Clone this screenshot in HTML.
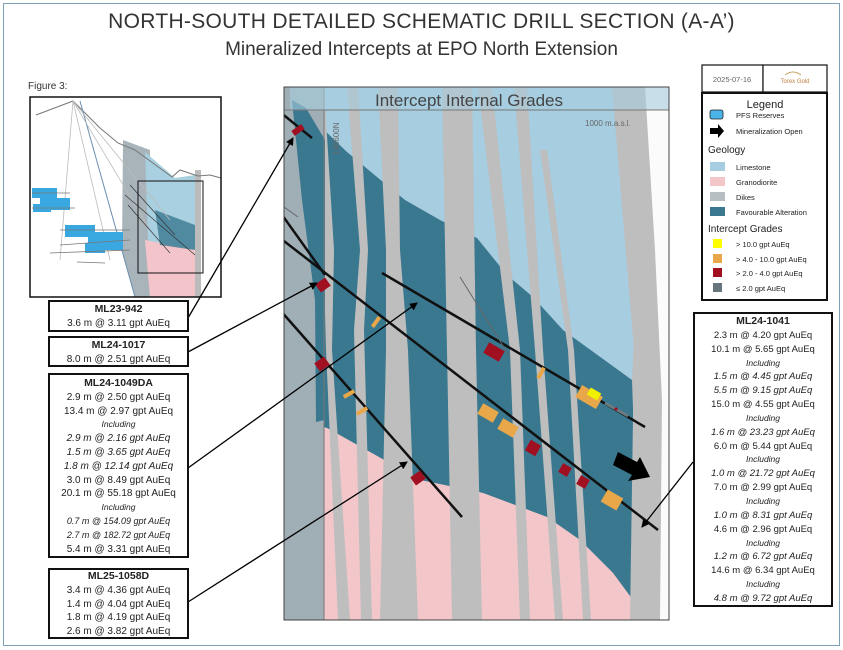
<!DOCTYPE html>
<html><head><meta charset="utf-8"><style>
body{margin:0;width:843px;height:650px;background:#fff;font-family:"Liberation Sans",sans-serif;overflow:hidden;position:relative}
.t{position:absolute;left:0;width:843px;text-align:center;color:#333}
.box{position:absolute;border:2px solid #111;background:#fff;text-align:center;font-size:10px;color:#222;box-sizing:border-box}
.box b{font-size:10.5px;color:#222}
.box div{line-height:13.8px}
.i{font-style:italic}
.r div{line-height:13.85px}
</style></head><body>
<div style="position:absolute;left:3px;top:3px;width:835px;height:641px;border:1px solid #7f9fb5"></div>
<div class="t" style="top:10px;font-size:21px;letter-spacing:0.3px">NORTH-SOUTH DETAILED SCHEMATIC DRILL SECTION (A-A’)</div>
<div class="t" style="top:39px;font-size:19px">Mineralized Intercepts at EPO North Extension</div>
<div style="position:absolute;left:28px;top:81px;font-size:10px;color:#333">Figure 3:</div>

<svg width="843" height="650" style="position:absolute;left:0;top:0">
<g>
<rect x="30" y="97" width="191" height="200" fill="#fff"/>
<polygon points="123,140 150,150 150,297 135,297 122,250" fill="#a8b4ba"/>
<polygon points="145,152 175,178 195,175 196,297 150,297" fill="#a9d0e0"/>
<polygon points="145,240 196,250 200,297 150,297" fill="#f3c5cb"/>
<polygon points="155,210 195,225 195,250 160,245" fill="#3a7890" opacity="0.8"/>
<rect x="195" y="170" width="6" height="127" fill="#bbb"/>
<polyline points="36,115 73,101 100,128 118,143 135,150 172,177 180,170 198,176 210,175 221,178" fill="none" stroke="#777" stroke-width="1"/>
<line x1="80" y1="101" x2="135" y2="297" stroke="#6a8fb0" stroke-width="1"/>
<g stroke="#bbb" stroke-width="0.8"><line x1="73" y1="101" x2="60" y2="260"/><line x1="73" y1="101" x2="110" y2="260"/><line x1="73" y1="101" x2="150" y2="230"/><line x1="73" y1="101" x2="170" y2="220"/></g>
<g fill="#3aa8e0"><rect x="32" y="188" width="25" height="10"/><rect x="40" y="198" width="30" height="12"/><rect x="33" y="204" width="18" height="8"/><rect x="65" y="225" width="30" height="12"/><rect x="88" y="232" width="35" height="18"/><rect x="85" y="243" width="20" height="10"/></g>
<g stroke="#777" stroke-width="0.8"><line x1="32" y1="193" x2="70" y2="193"/><line x1="32" y1="208" x2="75" y2="208"/><line x1="60" y1="230" x2="130" y2="230"/><line x1="60" y1="245" x2="130" y2="240"/><line x1="50" y1="253" x2="130" y2="250"/><line x1="77" y1="262" x2="105" y2="263"/></g>
<g stroke="#333" stroke-width="0.7"><line x1="130" y1="185" x2="175" y2="235"/><line x1="125" y1="195" x2="195" y2="255"/><line x1="128" y1="205" x2="170" y2="253"/></g>
<rect x="138" y="181" width="65" height="92" fill="none" stroke="#111" stroke-width="1"/>
<rect x="30" y="97" width="191" height="200" fill="none" stroke="#111" stroke-width="1.5"/>
</g>

<clipPath id="c"><rect x="284" y="87" width="385" height="533"/></clipPath>
<g clip-path="url(#c)">
<rect x="284" y="87" width="385" height="533" fill="#bebebe"/>
<polygon points="290,87 645,87 632,380 563,330 533,297 507,275 477,238 440,220 405,200 377,177 347,152 300,110" fill="#a6cde0"/>
<polygon points="293,100 347,152 377,177 405,200 440,220 477,238 507,275 533,297 563,330 632,380 640,610 613,573 580,540 547,517 483,493 420,480 327,428 315,425 305,300" fill="#3a7890"/>
<polygon points="315,425 327,428 420,480 483,493 547,517 580,540 613,573 633,600 640,620 300,620" fill="#f3c6ca"/>
<g fill="#bebebe">
<polygon points="311,87 324,87 334,250 332,350 350,620 338,620 326,350 322,200"/>
<polygon points="347,87 358,87 368,250 364,330 372,620 361,620 354,330 360,250"/>
<polygon points="378,87 398,87 400,250 408,350 418,620 380,620 386,350 386,250"/>
<polygon points="442,87 472,87 476,350 482,620 452,620 447,350"/>
<polygon points="478,87 492,87 520,350 530,620 520,620 510,350"/>
<polygon points="514,87 527,87 543,350 563,620 555,620 535,350"/>
<polygon points="540,150 547,150 574,350 591,620 583,620 568,350"/>
<polygon points="612,87 645,87 650,350 655,620 630,620 634,350"/>
</g>
<polygon points="645,87 669,87 669,620 660,620 662,400 655,250" fill="#fbfbfb"/>
<rect x="284" y="87" width="40" height="533" fill="#a0aeb5"/>
<polygon points="292,100 306,108 325,140 325,420 316,422 315,300 302,200" fill="#3a7890"/>
<line x1="324" y1="87" x2="324" y2="620" stroke="#777" stroke-width="1"/>
<rect x="290" y="87" width="379" height="23" fill="#a6cde0" opacity="0.6"/>
<line x1="284" y1="110" x2="669" y2="110" stroke="#777" stroke-width="1"/>
<text x="469" y="106" font-size="17" fill="#444" text-anchor="middle" font-family="Liberation Sans">Intercept Internal Grades</text>
<text x="585" y="126" font-size="8" fill="#666">1000 m.a.s.l.</text>
<text transform="translate(339,155) rotate(-90)" font-size="8" fill="#666">198600N</text>
<g stroke="#111" stroke-width="2.5" fill="none">
<line x1="280" y1="112" x2="312" y2="138"/>
<line x1="280" y1="212" x2="325" y2="275"/>
<line x1="280" y1="238" x2="658" y2="530"/>
<line x1="382" y1="273" x2="645" y2="427"/>
<line x1="280" y1="310" x2="462" y2="517"/>
</g>
<g stroke="#666" stroke-width="1"><line x1="460" y1="277" x2="510" y2="357"/><line x1="284" y1="207" x2="298" y2="217"/></g>
<g>
<rect x="-6" y="-3" width="12" height="6" fill="#a01020" transform="translate(298,130) rotate(-35)"/>
<rect x="-6" y="-5" width="12" height="10" fill="#a01020" transform="translate(323,285) rotate(-35)"/>
<rect x="-6" y="-5" width="12" height="10" fill="#a01020" transform="translate(322,364) rotate(-35)"/>
<rect x="-2" y="-6" width="4" height="12" fill="#e8a84a" transform="translate(376,322) rotate(35)"/>
<rect x="-2" y="-6" width="4" height="12" fill="#e8a84a" transform="translate(349,394) rotate(60)"/>
<rect x="-2" y="-6" width="4" height="12" fill="#e8a84a" transform="translate(362,411) rotate(60)"/>
<rect x="-6" y="-5" width="12" height="10" fill="#a01020" transform="translate(418,478) rotate(-35)"/>
<rect x="-9" y="-6" width="18" height="12" fill="#a01020" transform="translate(494,352) rotate(30)"/>
<rect x="-2" y="-6" width="4" height="12" fill="#e8a84a" transform="translate(541,373) rotate(30)"/>
<rect x="-12" y="-7" width="24" height="14" fill="#e8a84a" transform="translate(589,397) rotate(30)"/>
<rect x="-6" y="-4" width="12" height="8" fill="#f0f000" transform="translate(594,394) rotate(30)"/>
<rect x="-9" y="-6" width="18" height="12" fill="#e8a84a" transform="translate(488,413) rotate(30)"/>
<rect x="-9" y="-6" width="18" height="12" fill="#e8a84a" transform="translate(508,428) rotate(30)"/>
<rect x="-6" y="-6" width="12" height="12" fill="#a01020" transform="translate(533,448) rotate(30)"/>
<rect x="-5" y="-5" width="10" height="10" fill="#a01020" transform="translate(565,470) rotate(30)"/>
<rect x="-5" y="-5" width="10" height="10" fill="#a01020" transform="translate(583,482) rotate(30)"/>
<rect x="-9" y="-7" width="18" height="14" fill="#e8a84a" transform="translate(612,500) rotate(30)"/>
</g>
<g stroke-width="3"><line x1="605" y1="403" x2="628" y2="416" stroke="#6b7b80"/><line x1="615" y1="408" x2="617" y2="410" stroke="#a01020"/></g>
<polygon points="618,452 637,462 640,457 650,477 628,481 632,475 613,465" fill="#000"/>
</g>
<rect x="284" y="87" width="385" height="533" fill="none" stroke="#444" stroke-width="1"/>
<defs><marker id="a" markerWidth="8" markerHeight="8" refX="7" refY="4" orient="auto" markerUnits="userSpaceOnUse"><path d="M0,0 L8,4 L0,8 z" fill="#000"/></marker></defs>
<g stroke="#000" stroke-width="1.3" marker-end="url(#a)">
<line x1="188" y1="318" x2="293" y2="138"/>
<line x1="188" y1="352" x2="317" y2="283"/>
<line x1="188" y1="468" x2="417" y2="303"/>
<line x1="188" y1="602" x2="407" y2="462"/>
<line x1="693" y1="462" x2="642" y2="527"/>
</g>
<rect x="702" y="65" width="61" height="27" fill="#fff" stroke="#111" stroke-width="1.2"/>
<rect x="763" y="65" width="64" height="27" fill="#fff" stroke="#111" stroke-width="1.2"/>
<text x="732" y="82" font-size="7.5" fill="#666" text-anchor="middle">2025-07-16</text>
<text x="795" y="83" font-size="6" fill="#c08040" text-anchor="middle">Torex Gold</text>
<path d="M785,75 q8,-6 16,0" stroke="#c8a060" fill="none"/>
<rect x="702" y="93" width="125" height="207" fill="#fff" stroke="#111" stroke-width="2"/>
<g font-family="Liberation Sans" fill="#222">
<text x="765" y="108" font-size="11" text-anchor="middle">Legend</text>
<rect x="710" y="110" width="13" height="9" rx="2" fill="#4ab4ea" stroke="#222" stroke-width="0.8"/>
<text x="736" y="118" font-size="7.5">PFS Reserves</text>
<polygon points="710,128 718,128 718,124 724,131 718,138 718,134 710,134" fill="#000"/>
<text x="736" y="134" font-size="7.5">Mineralization Open</text>
<text x="708" y="153" font-size="10">Geology</text>
<rect x="710" y="162" width="15" height="9" fill="#a6cde0"/><text x="736" y="170" font-size="7.5">Limestone</text>
<rect x="710" y="177" width="15" height="9" fill="#f3c6ca"/><text x="736" y="185" font-size="7.5">Granodiorite</text>
<rect x="710" y="192" width="15" height="9" fill="#b8bfc3"/><text x="736" y="200" font-size="7.5">Dikes</text>
<rect x="710" y="207" width="15" height="9" fill="#3a7890"/><text x="736" y="215" font-size="7.5">Favourable Alteration</text>
<text x="708" y="232" font-size="10">Intercept Grades</text>
<rect x="713" y="239" width="9" height="9" fill="#ffff00"/><text x="736" y="247" font-size="7.5">&gt; 10.0 gpt AuEq</text>
<rect x="713" y="254" width="9" height="9" fill="#e8a84a"/><text x="736" y="262" font-size="7.5">&gt; 4.0 - 10.0 gpt AuEq</text>
<rect x="713" y="268" width="9" height="9" fill="#a01020"/><text x="736" y="276" font-size="7.5">&gt; 2.0 - 4.0 gpt AuEq</text>
<rect x="713" y="283" width="9" height="9" fill="#66757b"/><text x="736" y="291" font-size="7.5">≤ 2.0 gpt AuEq</text>
</g>
</svg>

<div class="box" style="left:48px;top:300px;width:141px;height:32px;padding-top:1px"><div><b>ML23-942</b></div><div>3.6 m @ 3.11 gpt AuEq</div></div>
<div class="box" style="left:48px;top:336px;width:141px;height:31px;padding-top:1px"><div><b>ML24-1017</b></div><div>8.0 m @ 2.51 gpt AuEq</div></div>
<div class="box" style="left:48px;top:373px;width:141px;height:185px;padding-top:2px">
<div><b>ML24-1049DA</b></div><div>2.9 m @ 2.50 gpt AuEq</div><div>13.4 m @ 2.97 gpt AuEq</div><div class="i" style="font-size:8.5px">Including</div><div class="i">2.9 m @ 2.16 gpt AuEq</div><div class="i">1.5 m @ 3.65 gpt AuEq</div><div class="i">1.8 m @ 12.14 gpt AuEq</div><div>3.0 m @ 8.49 gpt AuEq</div><div>20.1 m @ 55.18 gpt AuEq</div><div class="i" style="font-size:8.5px">Including</div><div class="i" style="font-size:9px">0.7 m @ 154.09 gpt AuEq</div><div class="i" style="font-size:9px">2.7 m @ 182.72 gpt AuEq</div><div>5.4 m @ 3.31 gpt AuEq</div></div>
<div class="box" style="left:48px;top:568px;width:141px;height:71px;padding-top:0px">
<div><b>ML25-1058D</b></div><div>3.4 m @ 4.36 gpt AuEq</div><div>1.4 m @ 4.04 gpt AuEq</div><div>1.8 m @ 4.19 gpt AuEq</div><div>2.6 m @ 3.82 gpt AuEq</div></div>
<div class="box r" style="left:693px;top:312px;width:140px;height:295px;padding-top:1px;font-size:9.5px">
<div><b>ML24-1041</b></div>
<div>2.3 m @ 4.20 gpt AuEq</div><div>10.1 m @ 5.65 gpt AuEq</div><div class="i" style="font-size:8.5px">Including</div><div class="i">1.5 m @ 4.45 gpt AuEq</div><div class="i">5.5 m @ 9.15 gpt AuEq</div><div>15.0 m @ 4.55 gpt AuEq</div><div class="i" style="font-size:8.5px">Including</div><div class="i">1.6 m @ 23.23 gpt AuEq</div><div>6.0 m @ 5.44 gpt AuEq</div><div class="i" style="font-size:8.5px">Including</div><div class="i">1.0 m @ 21.72 gpt AuEq</div><div>7.0 m @ 2.99 gpt AuEq</div><div class="i" style="font-size:8.5px">Including</div><div class="i">1.0 m @ 8.31 gpt AuEq</div><div>4.6 m @ 2.96 gpt AuEq</div><div class="i" style="font-size:8.5px">Including</div><div class="i">1.2 m @ 6.72 gpt AuEq</div><div>14.6 m @ 6.34 gpt AuEq</div><div class="i" style="font-size:8.5px">Including</div><div class="i">4.8 m @ 9.72 gpt AuEq</div></div>
</body></html>
